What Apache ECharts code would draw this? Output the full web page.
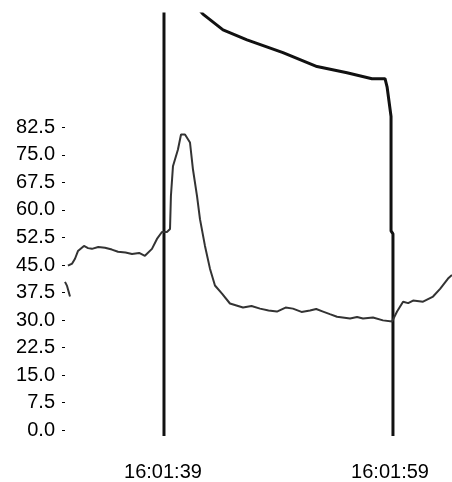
<!DOCTYPE html>
<html>
<head>
<meta charset="utf-8">
<script src="https://cdn.jsdelivr.net/npm/echarts@6/dist/echarts.min.js"></script>
<style>
    html, body { margin: 0; padding: 0; background: #fff; }
    #chart { width: 452px; height: 482px; }
</style>
</head>
<body>
<div id="chart"></div>
<script>
// seconds after 16:01:00
var yTicks = [0, 7.5, 15, 22.5, 30, 37.5, 45, 52.5, 60, 67.5, 75, 82.5];
var xTicks = [39, 59];

// thin noisy trace [seconds, value], null breaks the line
var traceT = [30.37, 30.55, 30.81, null,
    30.63, 31.0, 31.25, 31.51, 32.04, 32.4, 32.74, 33.3, 33.89, 34.5, 35.04, 35.7, 36.27, 36.9, 37.41, 38.03, 38.47, 38.91,
    39.35, 39.62, 39.70, 39.88, 40.32, 40.59, 40.94, 41.38, 41.64, 42.0, 42.26, 42.7, 43.14, 43.58, 44.2, 44.9,
    46.05, 46.8, 47.55, 48.3, 49.04, 49.8, 50.45, 51.2, 51.95, 52.5, 53.1, 53.7, 54.33, 55.48, 56.1, 56.62, 57.5, 58.38,
    59.18, 59.62, 60.15, 60.6, 61.03, 61.91, 62.79, 63.41, 64.11, 64.46];
var traceV = [40.4, 39.3, 36.4, null,
    44.8, 45.4, 46.7, 48.8, 50.2, 49.6, 49.4, 49.9, 49.7, 49.2, 48.6, 48.4, 48.0, 48.3, 47.5, 49.4, 52.1, 54.0,
    54.0, 54.8, 63.8, 71.9, 76.5, 80.6, 80.6, 78.4, 71.1, 63.8, 57.5, 50.2, 44.0, 39.4, 37.2, 34.5,
    33.4, 33.8, 33.1, 32.6, 32.3, 33.4, 33.1, 32.2, 32.6, 33.0, 32.3, 31.6, 30.9, 30.4, 30.8, 30.4, 30.7, 29.9,
    29.6, 32.3, 35.0, 34.6, 35.3, 35.0, 36.4, 38.5, 41.3, 42.3];

// thick trace: up past the top at 16:01:39, back down near 16:01:59
var pulseT = [39.09, 39.09, 40.5, 42.52, 44.29, 46.4, 49.57, 52.57, 55.21, 57.41, 58.56, 58.74, 59.09, 59.09, 59.26, 59.26];
var pulseV = [-1.63, 125, 121, 113.4, 109.1, 106.4, 102.9, 99.1, 97.4, 95.8, 95.8, 93.6, 85.5, 54.3, 53.5, -1.63];

function pairs(ts, vs) {
    var out = [];
    for (var i = 0; i < ts.length; i++) {
        out.push(ts[i] === null ? [null, null] : [ts[i], vs[i]]);
    }
    return out;
}

var chart = echarts.init(document.getElementById('chart'));
chart.setOption({
    animation: false,
    backgroundColor: '#fff',
    grid: { left: 65, right: 0, top: 14, bottom: 44 },
    xAxis: {
        type: 'value',
        min: 30.37,
        max: 64.46,
        axisLine: { show: false },
        axisTick: { show: false },
        splitLine: { show: false },
        axisLabel: {
            customValues: xTicks,
            margin: 26,
            color: '#000',
            fontFamily: 'Liberation Sans',
            fontSize: 20,
            formatter: function (v) { return '16:01:' + v; }
        }
    },
    yAxis: {
        type: 'value',
        min: -1.63,
        max: 113.44,
        axisLine: { show: false },
        splitLine: { show: false },
        axisTick: {
            show: true,
            customValues: yTicks,
            length: 3,
            lineStyle: { color: '#000', width: 1 }
        },
        axisLabel: {
            customValues: yTicks,
            margin: 10,
            color: '#000',
            fontFamily: 'Liberation Sans',
            fontSize: 20,
            formatter: function (v) { return v.toFixed(1); }
        }
    },
    series: [{
        name: 'trace',
        type: 'line',
        data: pairs(traceT, traceV),
        showSymbol: false,
        connectNulls: false,
        lineStyle: { color: '#333', width: 2 },
        z: 3
    }, {
        name: 'pulse',
        type: 'line',
        data: pairs(pulseT, pulseV),
        showSymbol: false,
        clip: true,
        lineStyle: { color: '#111', width: 3 },
        z: 2
    }]
});
</script>
</body>
</html>
